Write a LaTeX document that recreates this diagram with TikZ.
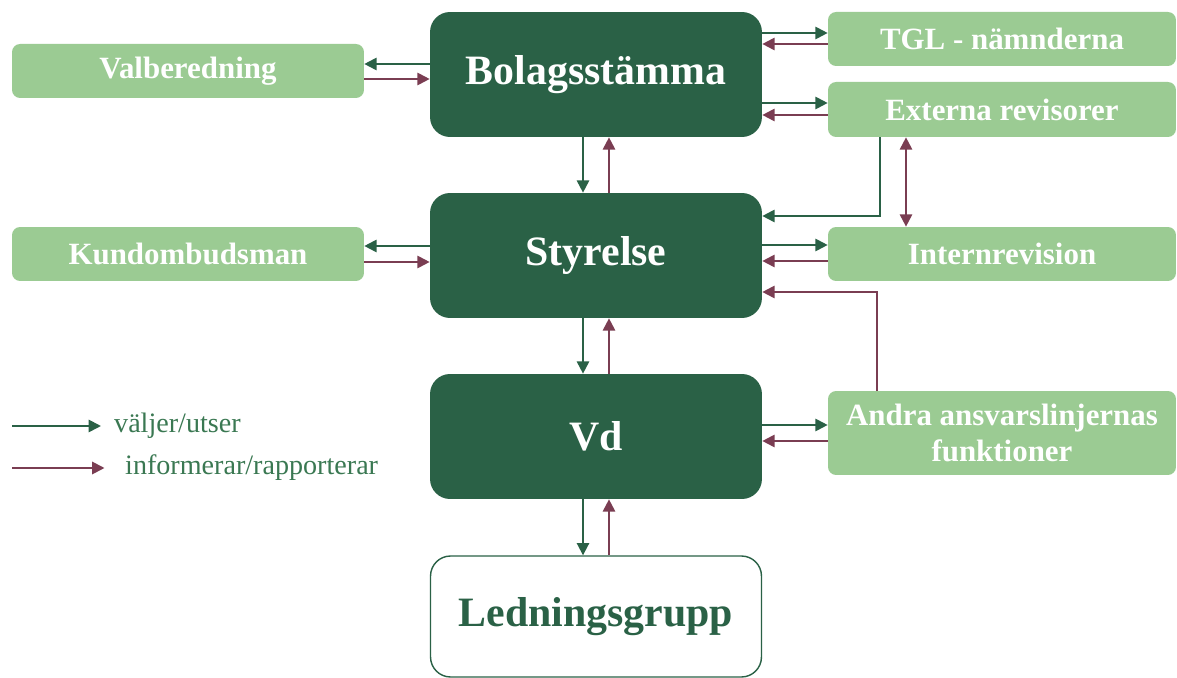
\documentclass[tikz,border=0pt]{standalone}
\usepackage{fontspec}
\setmainfont{Liberation Serif}
\usetikzlibrary{arrows.meta}
\definecolor{mork}{HTML}{2A6146}
\definecolor{ljus}{HTML}{9BCB93}
\definecolor{vin}{HTML}{7A3D52}
\definecolor{legtext}{HTML}{3A7852}
\begin{document}
\begin{tikzpicture}[x=0.02cm, y=-0.02cm,
  >={Triangle[length=7pt, width=7pt]},
  organ/.style={fill=mork, rounded corners=0.4cm, minimum width=6.64cm, minimum height=2.5cm, text=white, font=\bfseries\fontsize{23.8}{28}\selectfont},
  grupp/.style={draw=mork, line width=0.8pt, fill=white, rounded corners=0.4cm, minimum width=6.62cm, minimum height=2.42cm, text=mork, font=\bfseries\fontsize{23.8}{28}\selectfont},
  funktion/.style={fill=ljus, rounded corners=0.16cm, minimum width=6.96cm, minimum height=1.08cm, text=white, align=center, font=\bfseries\fontsize{17.6}{21}\selectfont},
  utser/.style={->, draw=mork, line width=1.1pt},
  rapport/.style={->, draw=vin, line width=1.1pt}]
\useasboundingbox (0,0) rectangle (1177,678);
\node[organ] (n1) at (596,74.5) {Bolagsstämma};
\node[organ] (n2) at (596,255.5) {Styrelse};
\node[organ] (n3) at (596,436.5) {Vd};
\node[grupp] (n4) at (596,616.5) {Ledningsgrupp};
\node[funktion, minimum width=7.04cm] (n5) at (188,71) {Valberedning};
\node[funktion, minimum width=7.04cm] (n6) at (188,254) {Kundombudsman};
\node[funktion] (n7) at (1002,39) {TGL - nämnderna};
\node[funktion, minimum height=1.1cm] (n8) at (1002,109.5) {Externa revisorer};
\node[funktion] (n9) at (1002,254) {Internrevision};
\node[funktion, minimum height=1.68cm] (n10) at (1002,433) {Andra ansvarslinjernas\\funktioner};
\draw[utser] (n1.west |- 0,64) -- (n5.east |- 0,64);
\draw[rapport] (n5.east |- 0,79) -- (n1.west |- 0,79);
\draw[utser] (n1.east |- 0,33) -- (n7.west |- 0,33);
\draw[rapport] (n7.west |- 0,44) -- (n1.east |- 0,44);
\draw[utser] (n1.east |- 0,103) -- (n8.west |- 0,103);
\draw[rapport] (n8.west |- 0,115) -- (n1.east |- 0,115);
\draw[utser] (n1.south -| 583,0) -- (n2.north -| 583,0);
\draw[rapport] (n2.north -| 609,0) -- (n1.south -| 609,0);
\draw[utser] (n8.south -| 880,0) |- (n2.east |- 0,216);
\draw[rapport, <->] (n8.south -| 906,0) -- (n9.north -| 906,0);
\draw[utser] (n2.west |- 0,246) -- (n6.east |- 0,246);
\draw[rapport] (n6.east |- 0,262) -- (n2.west |- 0,262);
\draw[utser] (n2.east |- 0,245) -- (n9.west |- 0,245);
\draw[rapport] (n9.west |- 0,261) -- (n2.east |- 0,261);
\draw[rapport] (n10.north -| 877,0) |- (n2.east |- 0,292);
\draw[utser] (n2.south -| 583,0) -- (n3.north -| 583,0);
\draw[rapport] (n3.north -| 609,0) -- (n2.south -| 609,0);
\draw[utser] (n3.east |- 0,425) -- (n10.west |- 0,425);
\draw[rapport] (n10.west |- 0,441) -- (n3.east |- 0,441);
\draw[utser] (n3.south -| 583,0) -- (n4.north -| 583,0);
\draw[rapport] (n4.north -| 609,0) -- (n3.south -| 609,0);
\coordinate (l1) at (12,426);
\coordinate (l2) at (12,468);
\node[anchor=west, text=legtext, font=\fontsize{16}{18}\selectfont] (t1) at (108,426) {väljer/utser};
\node[anchor=west, text=legtext, font=\fontsize{16}{18}\selectfont] (t2) at (119,468) {informerar/rapporterar};
\draw[utser, shorten >=4] (l1) -- (t1.west);
\draw[rapport, shorten >=2] (l2) -- (t2.west -| t1.west);
\end{tikzpicture}
\end{document}
